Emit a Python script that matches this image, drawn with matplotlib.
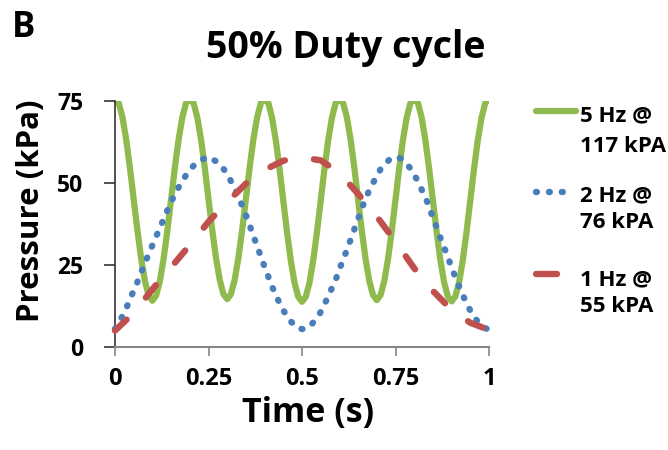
import numpy as np
import matplotlib
matplotlib.use("Agg")
import matplotlib.pyplot as plt
from matplotlib.lines import Line2D

plt.rcParams['font.family'] = ['Open Sans', 'DejaVu Sans']
plt.rcParams['font.weight'] = 'bold'

# 5 Hz @ 117 kPA - read every 0.01 s (peaks run past the 75 kPa axis top)
t_5hz = np.round(np.arange(101) * 0.01, 2)
p_5hz = [75.5, 74.4, 70.0, 63.2, 54.6, 45.0, 35.5, 26.9, 20.1, 15.7, 14.1,
         15.7, 20.1, 26.9, 35.5, 45.0, 54.6, 63.2, 70.0, 74.4, 75.5,
         74.4, 70.0, 63.3, 54.7, 45.1, 35.7, 27.2, 20.5, 16.1, 14.6,
         16.1, 20.5, 27.2, 35.7, 45.1, 54.7, 63.3, 70.0, 74.4, 75.5,
         74.4, 69.9, 63.0, 54.3, 44.6, 35.0, 26.4, 19.6, 15.3, 13.8,
         15.3, 19.6, 26.4, 35.0, 44.6, 54.3, 63.0, 69.9, 74.4, 75.5,
         74.4, 70.0, 63.2, 54.6, 44.9, 35.4, 26.8, 20.1, 15.8, 14.3,
         15.8, 20.1, 26.8, 35.4, 44.9, 54.6, 63.2, 70.0, 74.4, 75.5,
         74.4, 69.9, 63.0, 54.3, 44.7, 35.1, 26.5, 19.7, 15.4, 13.9,
         15.4, 19.7, 26.5, 35.1, 44.7, 54.3, 63.0, 69.9, 74.4, 75.5]

# 2 Hz @ 76 kPA
t_2hz = [0.000, 0.018, 0.033, 0.047, 0.061, 0.074, 0.087, 0.101, 0.115, 0.129,
         0.143, 0.158, 0.175, 0.194, 0.217, 0.248, 0.277, 0.299, 0.316, 0.331,
         0.344, 0.357, 0.368, 0.381, 0.392, 0.405, 0.417, 0.432, 0.447, 0.465,
         0.488, 0.505, 0.523, 0.546, 0.562, 0.577, 0.591, 0.603, 0.616, 0.628,
         0.640, 0.652, 0.664, 0.678, 0.694, 0.711, 0.735, 0.752, 0.768, 0.791,
         0.808, 0.824, 0.838, 0.849, 0.862, 0.874, 0.887, 0.899, 0.912, 0.925,
         0.940, 0.956, 0.979, 1.000]
p_2hz = [5.5, 9.0, 12.6, 16.4, 20.1, 23.9, 27.5, 31.3, 35.0, 38.7,
         42.5, 46.1, 49.7, 53.1, 56.2, 58.0, 56.2, 53.0, 49.2, 45.6,
         41.9, 38.2, 34.4, 30.6, 26.8, 23.0, 19.2, 15.3, 11.8, 8.4,
         5.7, 5.4, 6.5, 9.8, 13.5, 17.2, 20.8, 24.6, 28.4, 32.1,
         35.9, 39.7, 43.5, 47.3, 50.9, 54.4, 57.3, 58.0, 57.3, 54.3,
         50.9, 47.0, 43.4, 39.7, 35.9, 32.0, 28.4, 24.5, 20.7, 17.1,
         13.3, 9.8, 6.4, 5.2]

# 1 Hz @ 55 kPA
t_1hz = [0.00, 0.05, 0.10, 0.15, 0.20, 0.25, 0.30, 0.35, 0.40, 0.45, 0.50,
         0.55, 0.60, 0.65, 0.70, 0.75, 0.80, 0.85, 0.90, 0.95, 1.00]
p_1hz = [5.0, 10.4, 17.6, 24.3, 31.1, 38.2, 44.2, 49.8, 54.0, 56.8, 57.8,
         56.9, 53.1, 46.7, 39.8, 32.1, 24.0, 17.1, 11.3, 7.4, 5.2]

x_ticks = [0, 0.25, 0.5, 0.75, 1]
x_tick_labels = ['0', '0.25', '0.5', '0.75', '1']
y_ticks = [0, 25, 50, 75]
legend_lines = [('5 Hz @', '117 kPA'), ('2 Hz @', '76 kPA'), ('1 Hz @', '55 kPA')]

green = '#8FBB4E'
blue = '#4A7EBB'
red = '#C0504D'
dotted = (0, (0.15, 1.87))
dashed = (0, (2.5, 4.6))

fig = plt.figure(figsize=(6.68, 4.5), dpi=100)
ax = fig.add_axes([115/668, 1 - 347/450, 374/668, 246/450])

ax.plot(t_5hz, p_5hz, color=green, lw=4.5, solid_capstyle='round', zorder=2)
ax.plot(t_2hz, p_2hz, color=blue, lw=4.6, ls=dotted,
        dash_capstyle='round', clip_on=False, zorder=3)
ax.plot(t_1hz, p_1hz, color=red, lw=4.6, ls=dashed,
        dash_capstyle='round', clip_on=False, zorder=4)

ax.set_xlim(0, 1)
ax.set_ylim(0, 75)
ax.set_xticks(x_ticks)
ax.set_xticklabels(x_tick_labels)
ax.set_yticks(y_ticks)

for s in ['top', 'right']:
    ax.spines[s].set_visible(False)
ax.spines['left'].set_color('#333333')
ax.spines['left'].set_linewidth(1.2)
ax.spines['bottom'].set_color('#868686')
ax.spines['bottom'].set_linewidth(1.5)

ax.tick_params(axis='x', direction='out', length=6.5, width=1.2, color='#868686',
               labelcolor='black', pad=8, labelsize=17)
ax.tick_params(axis='y', direction='out', length=8, width=1.2, color='#333333',
               labelcolor='black', pad=15, labelsize=16.5)

ax.set_xlabel('Time (s)', fontsize=24.5, fontweight='bold')
ax.xaxis.label.set_va('baseline')
ax.xaxis.set_label_coords(0.516, -0.303)
ax.set_ylabel('Pressure (kPa)', fontsize=22.5, fontweight='bold')
ax.yaxis.label.set_va('baseline')
ax.yaxis.set_label_coords(-0.202, 0.553)

fig.text(346/668, 1 - 58.3/450, '50% Duty cycle', ha='center', va='baseline', fontsize=27)
fig.text(12/668, 1 - 37/450, 'B', ha='left', va='baseline', fontsize=25)

# legend, keys beside the first text line as in the original
key_y = [110.7, 191.7, 274]
first_y = [121.7, 201.7, 285]
second_y = [151.7, 228.3, 311.7]
fig.add_artist(Line2D([536/668, 576/668], [1 - key_y[0]/450] * 2, color=green, lw=4.5,
                      solid_capstyle='round'))
fig.add_artist(Line2D([536/668, 564/668], [1 - key_y[1]/450] * 2, color=blue, lw=4.6,
                      ls=dotted, dash_capstyle='round'))
fig.add_artist(Line2D([536/668, 557/668], [1 - key_y[2]/450] * 2, color=red, lw=4.6,
                      solid_capstyle='round'))
for (l1, l2), y1, y2 in zip(legend_lines, first_y, second_y):
    fig.text(580/668, 1 - y1/450, l1, ha='left', va='baseline', fontsize=16)
    fig.text(580/668, 1 - y2/450, l2, ha='left', va='baseline', fontsize=16)

fig.savefig('out.png', dpi=100)
